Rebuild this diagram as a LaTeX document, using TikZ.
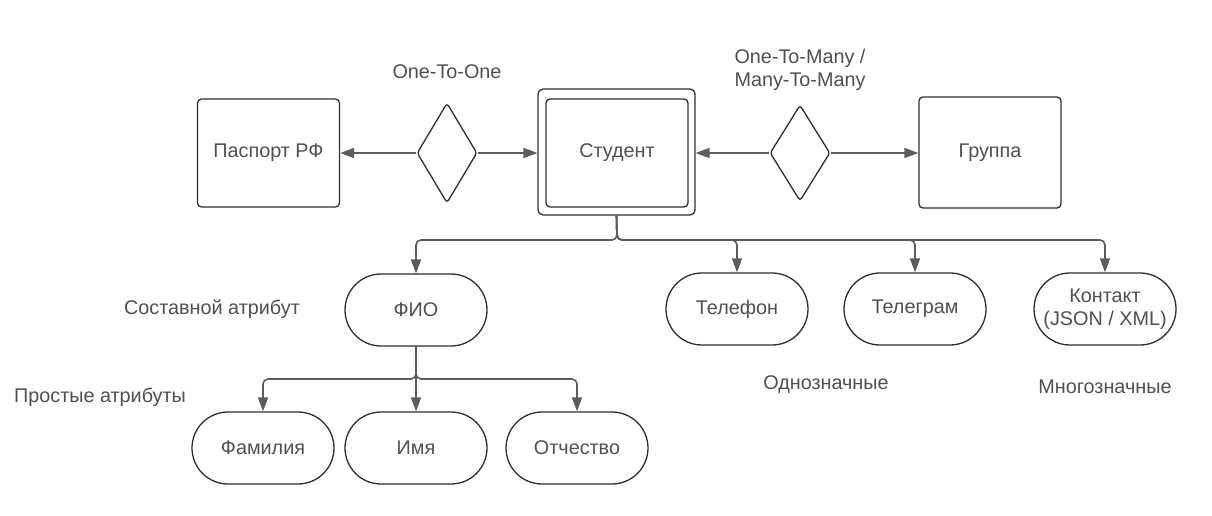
\documentclass[tikz,border=0pt]{standalone}
\usepackage{fontspec}
\setmainfont{Liberation Sans}
\usetikzlibrary{shapes.geometric,shapes.misc,arrows.meta}
\definecolor{txt}{HTML}{4F4F4F}
\definecolor{bord}{HTML}{2E2E2E}
\definecolor{conn}{HTML}{5C5C5C}
\begin{document}
\begin{tikzpicture}[x=1pt,y=-1pt,
  every node/.style={font=\fontsize{19.8}{23}\selectfont, text=txt},
  entity/.style={draw=bord, line width=1.3pt, rounded corners=4pt, inner sep=0pt, minimum width=142pt, minimum height=108pt},
  rel/.style={draw=bord, line width=1.3pt, diamond, inner sep=0pt, minimum width=60pt, minimum height=100pt, rounded corners=3pt},
  attr/.style={draw=bord, line width=1.3pt, rounded rectangle, inner sep=0pt, minimum width=142pt, minimum height=72pt, align=center},
  lbl/.style={inner sep=0pt, align=center},
  conn/.style={draw=conn, line width=1.6pt, -{Triangle[length=14pt,width=10pt]}, rounded corners=5pt}
]
\useasboundingbox (0,0) rectangle (1212,516);
\node[entity] (pass) at (268.5,153) {Паспорт РФ};
\node[draw=bord, line width=1.3pt, rounded corners=5pt, inner sep=0pt, minimum width=157pt, minimum height=126pt] (studo) at (616.5,152) {};
\node[entity] (stud) at (617,153) {Студент};
\node[entity, minimum height=111pt] (grp) at (990,152.5) {Группа};
\node[rel] (r1) at (447,153) {};
\node[rel, minimum height=96pt] (r2) at (800,153) {};
\node[lbl] (l1) at (447,72) {One-To-One};
\node[lbl] (l2) at (800,70) {One-To-Many /\\Many-To-Many};

\draw[conn] (r1.west) -- (r1.west -| pass.east);
\draw[conn] (r1.east) -- (r1.east -| studo.west);
\draw[conn] (r2.west) -- (r2.west -| studo.east);
\draw[conn] (r2.east) -- (r2.east -| grp.west);

\node[attr] (fio) at (416,310) {ФИО};
\node[attr] (tel) at (737,309) {Телефон};
\node[attr] (tg) at (915,309) {Телеграм};
\node[attr] (cont) at (1105,309) {Контакт\\(JSON / XML)};

\coordinate (b1) at (617,240);
\draw[conn] (studo.south) -- (b1) -- (fio.north |- b1) -- (fio.north);
\draw[conn] (studo.south) -- (b1) -- (tel.north |- b1) -- (tel.north);
\draw[conn] (studo.south) -- (b1) -- (tg.north |- b1) -- (tg.north);
\draw[conn] (studo.south) -- (b1) -- (cont.north |- b1) -- (cont.north);

\node[attr] (fam) at (263,448) {Фамилия};
\node[attr] (imya) at (416,448) {Имя};
\node[attr] (otch) at (577,448) {Отчество};

\coordinate (b2) at (416,379);
\draw[conn] (fio.south) -- (b2) -- (fam.north |- b2) -- (fam.north);
\draw[conn] (fio.south) -- (imya.north);
\draw[conn] (fio.south) -- (b2) -- (otch.north |- b2) -- (otch.north);

\node[lbl] (s1) at (212,309) {Составной атрибут};
\node[lbl] (s2) at (100,397) {Простые атрибуты};
\node[lbl] (s3) at (826,385) {Однозначные};
\node[lbl] (s4) at (1105,387) {Многозначные};
\end{tikzpicture}
\end{document}
